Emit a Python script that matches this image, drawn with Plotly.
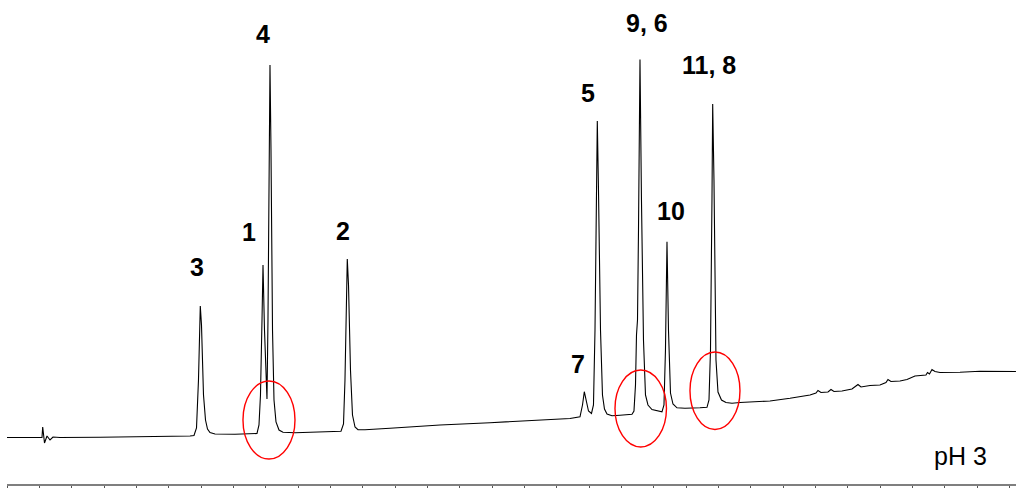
import plotly.graph_objects as go

# Chromatogram trace: retention time (min) and detector signal (a.u.)
time_min = [
    0.000, 0.711, 1.020, 1.082, 1.104, 1.160, 1.237, 1.330, 1.422, 1.639,
    2.876, 4.422, 5.659, 5.782, 5.860, 5.921, 5.977, 6.014, 6.076, 6.138,
    6.200, 6.277, 6.432, 7.050, 7.730, 7.792, 7.838, 7.885, 7.916, 7.962,
    8.009, 8.039, 8.070, 8.101, 8.132, 8.163, 8.210, 8.256, 8.318, 8.411,
    8.534, 8.905, 9.678, 10.328, 10.405, 10.451, 10.498, 10.522, 10.560, 10.621,
    10.683, 10.761, 10.853, 11.070, 11.843, 13.389, 14.935, 16.481, 17.409, 17.718,
    17.795, 17.851, 17.903, 17.981, 18.073, 18.135, 18.182, 18.228, 18.253, 18.290,
    18.352, 18.413, 18.475, 18.553, 18.707, 18.955, 19.326, 19.387, 19.434, 19.465,
    19.496, 19.527, 19.573, 19.619, 19.681, 19.743, 19.820, 19.944, 20.130, 20.253,
    20.315, 20.361, 20.408, 20.454, 20.516, 20.593, 20.717, 20.964, 21.428, 21.645,
    21.707, 21.753, 21.799, 21.821, 21.861, 21.923, 21.985, 22.093, 22.232, 22.418,
    22.665, 23.593, 24.211, 24.830, 25.015, 25.077, 25.170, 25.386, 25.479, 25.572,
    25.819, 26.128, 26.252, 26.314, 26.407, 26.685, 26.994, 27.180, 27.241, 27.334,
    27.612, 27.829, 28.076, 28.293, 28.416, 28.463, 28.525, 28.602, 28.695, 28.849,
    29.468, 30.086, 30.705, 31.199,
]
signal = [
    48.5, 48.5, 48.5, 48.5, 59.0, 43.0, 50.0, 46.0, 49.0, 48.5,
    48.8, 49.2, 50.0, 50.5, 58.0, 106.0, 180.0, 161.0, 91.0, 66.0,
    57.0, 53.5, 52.0, 51.8, 52.5, 61.0, 91.0, 166.0, 221.0, 156.0,
    101.0, 87.0, 166.0, 326.0, 421.0, 336.0, 156.0, 86.0, 64.0, 56.0,
    53.7, 53.2, 54.0, 54.7, 62.0, 106.0, 186.0, 227.0, 201.0, 116.0,
    71.0, 59.0, 56.3, 56.2, 57.7, 61.0, 63.3, 65.5, 67.5, 69.2,
    81.0, 94.3, 86.0, 75.0, 72.5, 81.0, 156.0, 286.0, 365.0, 296.0,
    156.0, 91.0, 77.0, 72.0, 70.2, 70.7, 71.7, 75.0, 101.0, 151.0,
    166.0, 256.0, 426.5, 286.0, 146.0, 91.0, 81.0, 76.5, 75.0, 74.2,
    81.0, 136.0, 244.3, 156.0, 93.0, 82.0, 78.2, 77.7, 78.2, 78.7,
    86.0, 136.0, 286.0, 382.0, 306.0, 126.0, 94.0, 86.0, 83.5, 82.7,
    83.5, 85.0, 87.7, 91.0, 93.0, 95.5, 93.5, 94.0, 96.5, 94.5,
    95.0, 97.0, 100.0, 101.5, 99.0, 100.5, 101.0, 103.5, 106.5, 104.5,
    105.0, 106.5, 110.0, 111.0, 111.0, 113.5, 112.0, 116.5, 114.5, 113.5,
    113.7, 114.7, 115.0, 114.5,
]

# Peak labels
peak_labels = ["3", "1", "4", "2", "7", "5", "9, 6", "10", "11, 8"]
label_time = [5.860, 7.483, 7.916, 10.389, 17.656, 17.965, 19.789, 20.532, 21.707]
label_signal = [219, 254, 452, 255, 122, 393, 463, 275, 421]

# Red ellipses marking regions of interest (x0, x1, y0, y1)
ellipse_x0 = [7.297, 18.800, 21.119]
ellipse_x1 = [8.905, 20.392, 22.665]
ellipse_y0 = [27.0, 39.0, 56.5]
ellipse_y1 = [105.0, 116.0, 134.0]

fig = go.Figure()
fig.add_trace(go.Scatter(
    x=time_min, y=signal, mode="lines",
    line=dict(color="black", width=1.1),
    hoverinfo="skip", showlegend=False,
))

for t, x, y in zip(peak_labels, label_time, label_signal):
    fig.add_annotation(
        x=x, y=y, text=t, showarrow=False,
        font=dict(family="Liberation Sans, Arial", size=25, color="black", weight="bold"),
        xanchor="center", yanchor="middle",
    )

for x0, x1, y0, y1 in zip(ellipse_x0, ellipse_x1, ellipse_y0, ellipse_y1):
    fig.add_shape(type="circle", xref="x", yref="y",
                  x0=x0, x1=x1, y0=y0, y1=y1,
                  line=dict(color="red", width=1.4))

fig.add_annotation(
    xref="paper", yref="paper", x=0.945, y=0.057,
    text="pH 3", showarrow=False,
    font=dict(family="Liberation Sans, Arial", size=25, color="black"),
    xanchor="center", yanchor="middle",
)

fig.update_layout(
    width=1016, height=488,
    margin=dict(l=7, r=0, t=0, b=4, autoexpand=False),
    paper_bgcolor="white", plot_bgcolor="white",
    xaxis=dict(range=[0, 31.2], showgrid=False, zeroline=False, automargin=False,
               showline=True, linecolor="#7f7f7f", linewidth=2,
               ticks="outside", ticklen=6, tickwidth=1, tickcolor="#555555",
               tick0=0, dtick=1, showticklabels=False),
    yaxis=dict(range=[2, 486], visible=False, automargin=False),
)

fig.write_html(
    "out.html",
    config={"displayModeBar": False},
    post_script="document.body.style.margin='0';document.body.style.overflow='hidden';",
)
